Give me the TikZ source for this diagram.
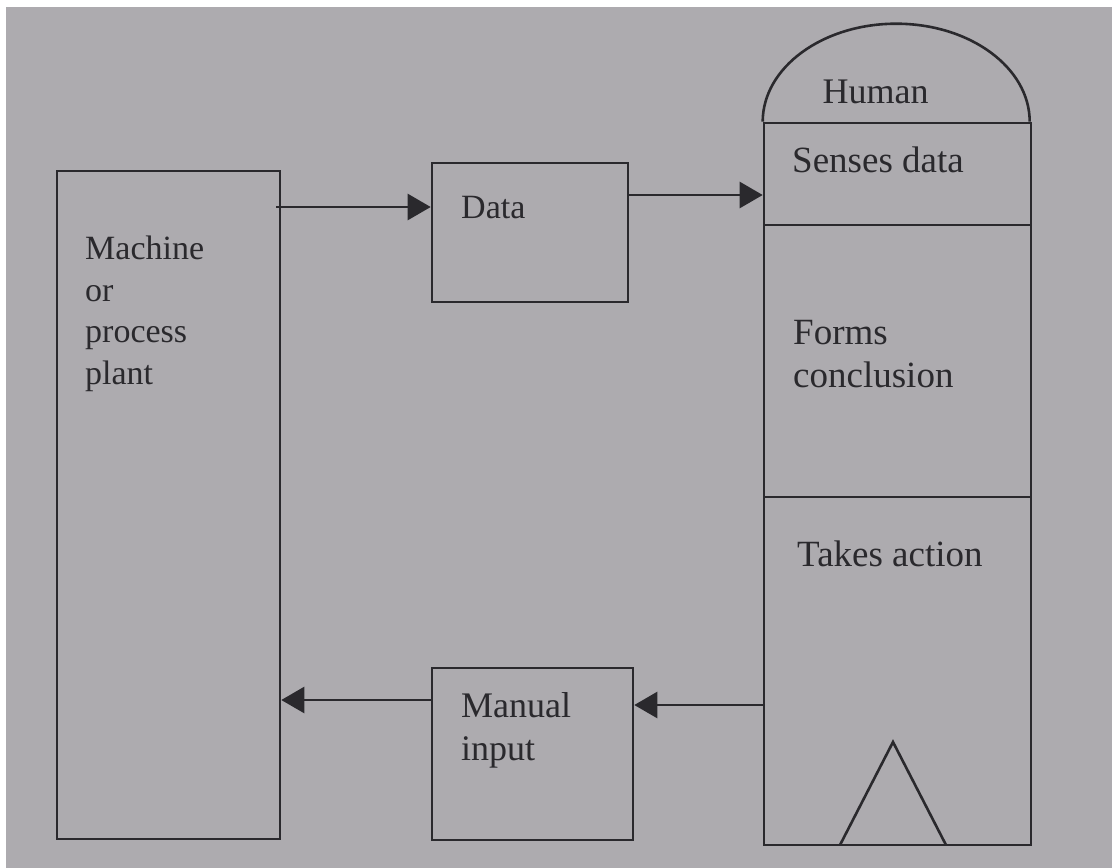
\documentclass[tikz,border=0pt]{standalone}
\usepackage{fontspec}
\setmainfont{Liberation Serif}
\usetikzlibrary{arrows.meta}
\definecolor{paper}{HTML}{ADABAF}
\definecolor{inkc}{HTML}{2A292D}
\begin{document}
\begin{tikzpicture}[x=1pt,y=-1pt,
  ink/.style={draw=inkc, line width=2.6pt},
  box/.style={ink, rectangle, inner sep=0pt},
  lbl/.style={inner sep=0pt, align=left, text=inkc},
  flow/.style={ink, -{Triangle[length=23pt,width=26pt]}}]
% background
\fill[white] (0,0) rectangle (1112,868);
\fill[paper] (6,7) rectangle (1112,868);
\useasboundingbox (0,0) rectangle (1112,868);
% boxes
\node[box, minimum width=223pt, minimum height=668pt] (machine) at (168.5,505) {};
\node[box, minimum width=196pt, minimum height=139pt] (data) at (530,232.5) {};
\node[box, minimum width=201pt, minimum height=172pt] (manual) at (532.5,754) {};
\node[box, minimum width=267pt, minimum height=102pt] (senses) at (897.5,174) {};
\node[box, minimum width=267pt, minimum height=272pt] (forms) at (897.5,361) {};
\node[box, minimum width=267pt, minimum height=348pt] (takes) at (897.5,671) {};
% dome
\draw[ink] (senses.north west) arc[start angle=180, end angle=0, x radius=133.5pt, y radius=98pt];
% triangle
\coordinate (apex) at (893,742);
\coordinate (tl) at (840,845);
\coordinate (tr) at (946,845);
\draw[ink, line join=miter] (tl) -- (apex) -- (tr);
% labels
\node[lbl, anchor=north west, font=\fontsize{34}{41.5}\selectfont] (lmachine) at (85,236) {Machine\\or\\process\\plant};
\node[lbl, anchor=base west, font=\fontsize{34}{41}\selectfont] (ldata) at (461,218) {Data};
\node[lbl, anchor=north west, font=\fontsize{36}{43.5}\selectfont] (lmanual) at (461,692) {Manual\\input};
\node[lbl, anchor=base, font=\fontsize{36}{43}\selectfont] (lhuman) at (875.5,103) {Human};
\node[lbl, anchor=base west, font=\fontsize{37}{43}\selectfont] (lsenses) at (792,172) {Senses data};
\node[lbl, anchor=north west, font=\fontsize{37}{43.5}\selectfont] (lforms) at (793,320) {Forms\\conclusion};
\node[lbl, anchor=base west, font=\fontsize{37}{43}\selectfont] (ltakes) at (797,566) {Takes action};
% connectors
\draw[flow] ([xshift=-5pt]machine.east |- 0,207) -- (data.west |- 0,207);
\draw[flow] (data.east |- 0,195) -- (senses.west |- 0,195);
\draw[flow] (takes.west |- 0,705) -- (manual.east |- 0,705);
\draw[flow] (manual.west |- 0,700) -- (machine.east |- 0,700);
\end{tikzpicture}
\end{document}
